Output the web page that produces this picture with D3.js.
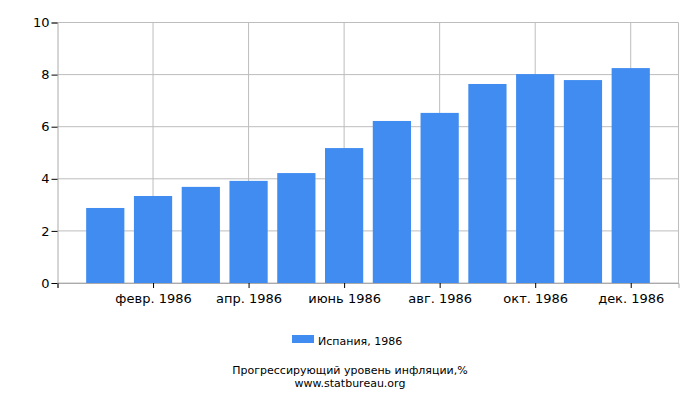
<!DOCTYPE html>
<html>
<head>
<meta charset="utf-8">
<script src="https://cdn.jsdelivr.net/npm/d3@7"></script>
<style>
  body { margin: 0; background: #fff; }
  text { font-family: "DejaVu Sans", sans-serif; }
</style>
</head>
<body>
<div id="chart"></div>
<script>
const months = ["янв. 1986", "февр. 1986", "март 1986", "апр. 1986", "май 1986", "июнь 1986",
    "июль 1986", "авг. 1986", "сент. 1986", "окт. 1986", "нояб. 1986", "дек. 1986"]
const values = [2.88, 3.34, 3.69, 3.92, 4.22, 5.18, 6.22, 6.53, 7.64, 8.02, 7.79, 8.25]
const yTicks = [0, 2, 4, 6, 8, 10]
const seriesName = "Испания, 1986"
const title = "Прогрессирующий уровень инфляции,%"
const source = "www.statbureau.org"

const width = 700
const height = 400
const plotLeft = 57.5, plotRight = 678.5, plotTop = 22.5, plotBottom = 283

const svg = d3.select('#chart').append('svg')
    .attr('width', width)
    .attr('height', height)

/*
 * Scales: month index 1..12, with a month of padding each side.
 */
const xScale = d3.scaleLinear()
    .domain([0, months.length + 1])
    .range([plotLeft, plotRight])

const yScale = d3.scaleLinear()
    .domain([0, 10])
    .range([plotBottom, plotTop])

const step = xScale(1) - xScale(0)
const barWidth = step * 0.8

/* grid */
svg.append('g')
    .selectAll('line')
    .data(yTicks)
    .join('line')
    .attr('x1', plotLeft).attr('x2', plotRight)
    .attr('y1', d => yScale(d)).attr('y2', d => yScale(d))
    .style('stroke', '#bdbdbd')

const xTickValues = months.map((m, i) => i + 1).filter(i => i % 2 === 0)

svg.append('g')
    .selectAll('line')
    .data(xTickValues)
    .join('line')
    .attr('x1', d => xScale(d)).attr('x2', d => xScale(d))
    .attr('y1', plotTop).attr('y2', plotBottom)
    .style('stroke', '#bdbdbd')

svg.append('line')
    .attr('x1', plotRight).attr('x2', plotRight)
    .attr('y1', plotTop).attr('y2', plotBottom)
    .style('stroke', '#bdbdbd')

/* bars */
svg.append('g')
    .selectAll('rect')
    .data(values)
    .join('rect')
    .attr('x', (d, i) => xScale(i + 1) - barWidth / 2)
    .attr('width', barWidth)
    .attr('y', d => yScale(d))
    .attr('height', d => yScale(0) - yScale(d))
    .style('fill', '#418cf0')

/* axes */
const xAxis = d3.axisBottom(xScale)
    .tickValues([0].concat(xTickValues))
    .tickSize(5)
    .tickPadding(6)
    .tickFormat(d => d === 0 ? '' : months[d - 1])

const gx = svg.append('g')
    .attr('transform', `translate(0, ${plotBottom})`)
    .call(xAxis)
gx.select('.domain').style('stroke', '#aaaaaa')
gx.selectAll('.tick line').style('stroke', '#000')
gx.selectAll('.tick text')
    .style('font-size', '13px')
    .style('fill', '#000')
    .attr('font-family', '"DejaVu Sans", sans-serif')

const yAxis = d3.axisLeft(yScale)
    .tickValues(yTicks)
    .tickSize(6)
    .tickPadding(2)

const gy = svg.append('g')
    .attr('transform', `translate(${plotLeft}, 0)`)
    .call(yAxis)
gy.select('.domain').style('stroke', '#aaaaaa')
gy.selectAll('.tick line').style('stroke', '#000')
gy.selectAll('.tick text')
    .style('font-size', '13px')
    .style('fill', '#000')
    .attr('font-family', '"DejaVu Sans", sans-serif')

/* legend */
svg.append('rect')
    .attr('x', 292).attr('y', 335)
    .attr('width', 22).attr('height', 8)
    .style('fill', '#418cf0')

svg.append('text')
    .attr('x', 318).attr('y', 345)
    .style('font-size', '11px')
    .text(seriesName)

/* title */
svg.append('text')
    .attr('x', width / 2).attr('y', 374)
    .attr('text-anchor', 'middle')
    .style('font-size', '11px')
    .text(title)

svg.append('text')
    .attr('x', width / 2).attr('y', 387)
    .attr('text-anchor', 'middle')
    .style('font-size', '11px')
    .text(source)
</script>
</body>
</html>
